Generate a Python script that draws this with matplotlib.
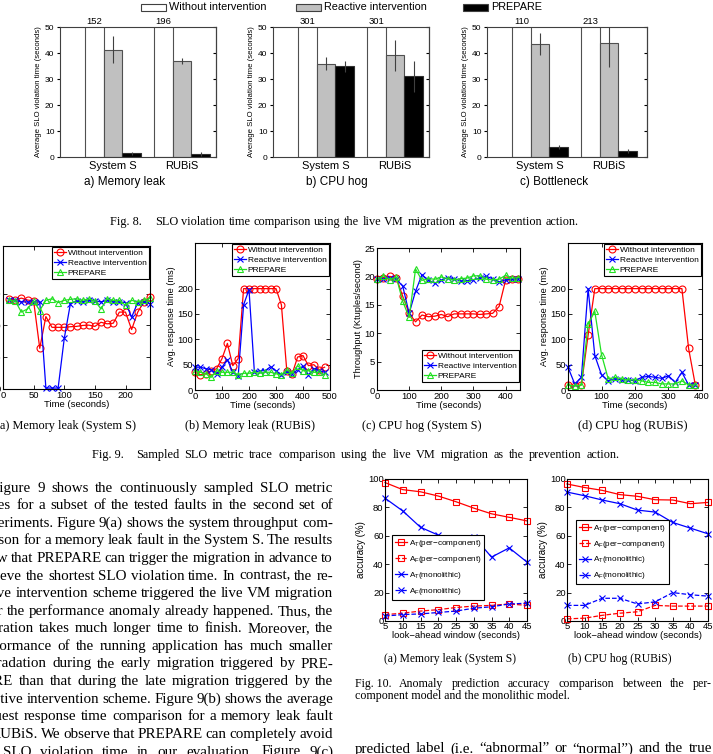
import matplotlib.pyplot as plt
from matplotlib.patches import Rectangle
import numpy as np

plt.rcParams['font.family'] = ['Liberation Sans', 'DejaVu Sans']
plt.rcParams['mathtext.default'] = 'regular'
plt.rcParams['axes.linewidth'] = 0.8

W, H = 713, 754
SERIF = ['Liberation Serif', 'DejaVu Serif']
GREEN = '#22e022'

# ---- Fig. 8 : SLO violation time (seconds) ----
apps = ['System S', 'RUBiS']
fig8_names = ['a) Memory leak', 'b) CPU hog', 'c) Bottleneck']
without_vals = [[152, 196], [301, 301], [110, 213]]
reactive_vals = [[41.3, 37.0], [35.9, 39.1], [43.5, 43.8]]
reactive_err = [[5.2, 1.2], [2.4, 6.0], [4.2, 9.0]]
prepare_vals = [[1.5, 1.2], [34.9, 31.0], [3.7, 2.2]]
prepare_err = [[0.6, 0.7], [2.1, 6.0], [0.8, 0.8]]

# ---- Fig. 9 : sampled SLO metric traces ----
t_mem_s = np.arange(10, 250, 10)
mem_s_without = [28.4, 28.0, 28.6, 28.0, 27.7, 12.8, 22.8, 19.4, 19.4, 19.4, 19.6, 19.7,
                 20.0, 20.1, 19.7, 21.0, 20.5, 20.7, 24.2, 24.2, 18.7, 24.2, 27.4, 29.0]
mem_s_reactive = [27.9, 27.9, 27.4, 27.4, 27.4, 27.4, 0.3, 0.3, 0.3, 15.9, 26.8, 27.7,
                  27.4, 27.9, 27.7, 27.4, 27.9, 27.4, 27.4, 27.2, 22.6, 27.2, 27.4, 26.8]
mem_s_prepare = [27.9, 27.7, 24.2, 25.2, 27.7, 24.7, 27.9, 28.4, 27.2, 27.9, 28.2, 28.4,
                 27.9, 28.4, 27.7, 25.2, 28.4, 27.9, 27.9, 26.3, 27.9, 27.4, 27.9, 28.6]

t_mem_r = np.arange(0, 500, 20)
mem_r_without = [35, 30, 32, 38, 42, 62, 92, 48, 62, 200, 200, 200, 200, 200, 200, 200,
                 168, 38, 32, 65, 68, 48, 50, 40, 45]
mem_r_reactive = [45, 45, 42, 40, 32, 45, 60, 35, 28, 168, 198, 35, 38, 38, 46, 38,
                  30, 35, 32, 40, 47, 30, 42, 38, 35]
mem_r_prepare = [38, 35, 32, 25, 38, 35, 35, 35, 30, 33, 33, 35, 33, 35, 35, 32,
                 30, 40, 33, 48, 38, 38, 35, 35, 30]

t_cpu_s = np.arange(0, 460, 20)
cpu_s_without = [19.5, 19.8, 20.0, 19.8, 16.5, 13.5, 12.0, 13.2, 12.9, 13.0, 13.3, 12.9,
                 13.4, 13.4, 13.4, 13.4, 13.3, 13.4, 13.5, 14.7, 19.3, 19.5, 19.6]
cpu_s_reactive = [19.5, 19.5, 19.8, 19.5, 18.3, 13.5, 17.4, 20.3, 19.3, 18.8, 19.3, 19.8,
                  19.6, 19.2, 19.2, 19.4, 19.7, 20.0, 19.6, 19.0, 19.4, 19.5, 19.6]
cpu_s_prepare = [19.5, 20.1, 19.4, 19.9, 15.6, 12.8, 21.3, 19.3, 19.6, 19.5, 19.9, 19.6,
                 19.4, 19.6, 19.7, 20.1, 20.1, 19.5, 19.4, 19.5, 20.2, 19.7, 19.8]

t_cpu_r = np.arange(0, 400, 20)
cpu_r_without = [10, 8, 10, 108, 200, 200, 200, 200, 200, 200, 200, 200, 200, 200,
                 200, 200, 200, 200, 82, 10]
cpu_r_reactive = [45, 12, 25, 200, 68, 30, 18, 22, 20, 20, 18, 25, 27, 25, 23, 28,
                  15, 35, 10, 10]
cpu_r_prepare = [10, 8, 10, 130, 155, 70, 22, 25, 22, 20, 20, 18, 15, 15, 12, 12,
                 12, 18, 10, 10]

# ---- Fig. 10 : prediction accuracy (%) ----
window = [5, 10, 15, 20, 25, 30, 35, 40, 45]
mem_at_comp = [97.5, 92.5, 91, 88, 84, 79.5, 75.5, 73, 70.5]
mem_af_comp = [4.5, 5.5, 7, 8, 9.5, 10.5, 11, 12, 11]
mem_at_mono = [86.5, 77.5, 66, 60.5, 57, 59.5, 45, 51.5, 41.5]
mem_af_mono = [3.5, 4.5, 5, 6, 7, 9, 10, 12, 12.5]
cpu_at_comp = [96.5, 94, 92, 89, 87.8, 85.4, 85.2, 82.6, 83.5]
cpu_af_comp = [1.5, 2, 4, 5.5, 6.5, 11, 10.5, 10.5, 10.5]
cpu_at_mono = [90.8, 88.2, 85.2, 82.6, 78.1, 76.7, 69.4, 65.4, 61.4]
cpu_af_mono = [11, 11, 16, 16, 12, 13.5, 20, 18.5, 17.5]

fig = plt.figure(figsize=(W / 100, H / 100), dpi=100)
renderer = fig.canvas.get_renderer()


def fx(x):
    return x / W


def fy(y):
    return 1 - y / H


def px_axes(l, t, r, b):
    return fig.add_axes([l / W, 1 - b / H, (r - l) / W, (b - t) / H])


def justify(line, x0, x1, y, size, family=SERIF):
    words = line.split()
    texts = [fig.text(0, fy(y), w, fontsize=size, family=family, va='center') for w in words]
    widths = [t.get_window_extent(renderer).width for t in texts]
    gap = (x1 - x0 - sum(widths)) / max(len(words) - 1, 1)
    x = x0
    for t, wd in zip(texts, widths):
        t.set_x(fx(x))
        x += wd + gap


# Fig. 8 legend
for x0, lab, col in [(141, 'Without intervention', 'white'),
                     (296, 'Reactive intervention', '#c0c0c0'),
                     (463, 'PREPARE', 'black')]:
    fig.patches.append(Rectangle((fx(x0), fy(11)), 25 / W, 7 / H, transform=fig.transFigure,
                                 facecolor=col, edgecolor='#404040', linewidth=0.8))
    fig.text(fx(x0 + 28), fy(7.5), lab, fontsize=7.8, va='center')

# Fig. 8 panels
for i, (l, r) in enumerate([(60, 216), (273, 429), (487, 647)]):
    ax = px_axes(l, 27, r, 157)
    x = np.array([1.0, 2.0])
    w = 0.27
    ekw = dict(ecolor='#404040', elinewidth=0.8, capsize=0)
    ax.bar(x - w, without_vals[i], w, color='white', edgecolor='#505050', linewidth=0.8)
    ax.bar(x, reactive_vals[i], w, yerr=reactive_err[i], color='#c0c0c0',
           edgecolor='#505050', linewidth=0.8, error_kw=ekw)
    ax.bar(x + w, prepare_vals[i], w, yerr=prepare_err[i], color='black',
           edgecolor='#303030', linewidth=0.8, error_kw=ekw)
    for j in range(2):
        ax.text(x[j] - w, 50.3, str(without_vals[i][j]), ha='center', va='bottom', fontsize=6.8)
    ax.set_ylim(0, 50)
    ax.set_xlim(1 - 53 / 69, 1 - 53 / 69 + (r - l) / 69)
    ax.set_xticks(x)
    ax.set_xticklabels(apps, fontsize=8)
    ax.tick_params(axis='x', length=0, pad=3)
    ax.set_yticks(range(0, 51, 10))
    ax.tick_params(axis='y', labelsize=6, length=2.5, width=0.8, pad=1.5)
    ax.set_ylabel('Average SLO violation time (seconds)', fontsize=5.6, labelpad=2)
    sec = ax.secondary_yaxis('right')
    sec.set_yticks(range(0, 51, 10))
    sec.set_yticklabels([])
    sec.tick_params(direction='in', length=2.5, width=0.8)
    for s in ax.spines.values():
        s.set_color('#404040')
    fig.text(fx([125, 337, 554][i]), fy(182), fig8_names[i], fontsize=8.5, ha='center', va='center')

fig.text(fx(110), fy(222), 'Fig. 8.', fontsize=8.8, family=SERIF, va='center')
justify('SLO violation time comparison using the live VM migration as the prevention action.',
        155, 579, 222, 8.8)

# Fig. 9 panels
styles = [('red', 'o', 'Without intervention'),
          ('blue', 'x', 'Reactive intervention'),
          (GREEN, '^', 'PREPARE')]
panels9 = [
    ((3, 246, 150, 389), t_mem_s, [mem_s_without, mem_s_reactive, mem_s_prepare],
     (0, 240), (0, 45), range(0, 201, 50), range(0, 31, 10),
     'Throughput (Ktuples/second)', 'upper right', None),
    ((195, 243, 330, 390), t_mem_r, [mem_r_without, mem_r_reactive, mem_r_prepare],
     (0, 500), (0, 290), range(0, 501, 100), range(0, 201, 50),
     'Avg. response time (ms)', 'upper right', None),
    ((377, 248, 520, 390), t_cpu_s, [cpu_s_without, cpu_s_reactive, cpu_s_prepare],
     (0, 445), (0, 25), range(0, 401, 100), range(0, 26, 5),
     'Throughput (Ktuples/second)', 'lower right', (1.0, 0.05)),
    ((568, 243, 702, 390), t_cpu_r, [cpu_r_without, cpu_r_reactive, cpu_r_prepare],
     (0, 400), (0, 290), range(0, 401, 100), range(0, 201, 50),
     'Avg. response time (ms)', 'upper right', None),
]
for box, t, series, xl, yl, xt, yt, ylab, loc, anchor in panels9:
    ax = px_axes(*box)
    for (c, m, lab), v in zip(styles, series):
        ax.plot(t, v, color=c, marker=m, mfc='none', ms=5, mew=0.8, lw=0.9,
                label=lab, clip_on=False)
    ax.set_xlim(*xl)
    ax.set_ylim(*yl)
    ax.set_xticks(list(xt))
    ax.set_yticks(list(yt))
    ax.tick_params(direction='in', length=3, width=0.6, top=True, right=True,
                   labelsize=6.8, pad=1.5)
    ax.set_xlabel('Time (seconds)', fontsize=6.8, labelpad=0)
    ax.set_ylabel(ylab, fontsize=6.6, labelpad=1)
    kw = dict(loc=loc, fontsize=6.0, handlelength=1.5, handletextpad=0.2,
              labelspacing=0.25, borderpad=0.25, borderaxespad=0.15,
              fancybox=False, framealpha=1, edgecolor='black')
    if anchor is not None:
        kw['bbox_to_anchor'] = anchor
    leg = ax.legend(**kw)
    leg.get_frame().set_linewidth(0.8)

for cx, lab in [(66, '(a) Memory leak (System S)'), (250, '(b) Memory leak (RUBiS)'),
                (422, '(c) CPU hog (System S)'), (633, '(d) CPU hog (RUBiS)')]:
    fig.text(fx(cx), fy(426), lab, fontsize=8.8, family=SERIF, ha='center', va='center')

fig.text(fx(92), fy(455), 'Fig. 9.', fontsize=8.8, family=SERIF, va='center')
justify('Sampled SLO metric trace comparison using the live VM migration as the prevention action.',
        136, 620, 455, 8.8)

# Fig. 10 panels
acc_labels = ['A$_T$(per\u2212component)', 'A$_F$(per\u2212component)',
              'A$_T$(monolithic)', 'A$_F$(monolithic)']
acc_styles = [('red', 's', '-'), ('red', 's', '--'), ('blue', 'x', '-'), ('blue', 'x', '--')]
panels10 = [
    ((385, 479, 527, 621), [mem_at_comp, mem_af_comp, mem_at_mono, mem_af_mono], (0.02, 0.12)),
    ((567, 479, 708, 621), [cpu_at_comp, cpu_af_comp, cpu_at_mono, cpu_af_mono], (0.035, 0.23)),
]
for box, series, anchor in panels10:
    ax = px_axes(*box)
    for (c, m, ls), lab, v in zip(acc_styles, acc_labels, series):
        ax.plot(window, v, color=c, marker=m, ls=ls, mfc='none', ms=4.5, mew=0.8, lw=0.9,
                label=lab, clip_on=False)
    ax.set_xlim(5, 45)
    ax.set_ylim(0, 100)
    ax.set_xticks(window)
    ax.set_yticks(range(0, 101, 20))
    ax.tick_params(direction='in', length=3, width=0.6, top=True, right=True,
                   labelsize=6.8, pad=1)
    ax.set_xlabel('look\u2212ahead window (seconds)', fontsize=6.8, labelpad=0)
    ax.set_ylabel('accuracy (%)', fontsize=7, labelpad=1)
    leg = ax.legend(loc='lower left', bbox_to_anchor=anchor, fontsize=5.9, handlelength=1.5,
                    handletextpad=0.2, labelspacing=0.6, borderpad=0.35,
                    fancybox=False, framealpha=1, edgecolor='black')
    leg.get_frame().set_linewidth(0.8)

fig.text(fx(450), fy(659), '(a) Memory leak (System S)', fontsize=8.4, family=SERIF,
         ha='center', va='center')
fig.text(fx(620), fy(659), '(b) CPU hog (RUBiS)', fontsize=8.4, family=SERIF,
         ha='center', va='center')

fig.text(fx(355), fy(684), 'Fig. 10.', fontsize=8.6, family=SERIF, va='center')
justify('Anomaly prediction accuracy comparison between the per-', 399, 712, 684, 8.6)
fig.text(fx(355), fy(696), 'component model and the monolithic model.', fontsize=8.6,
         family=SERIF, va='center')

justify('predicted label (i.e. \u201cabnormal\u201d or \u201cnormal\u201d) and the true',
        355, 712, 749, 10.8)

# body text of the left column (clipped at the page edge)
body = [
    'Figure 9 shows the continuously sampled SLO metric',
    'traces for a subset of the tested faults in the second set of',
    'experiments. Figure 9(a) shows the system throughput com-',
    'parison for a memory leak fault in the System S. The results',
    'show that PREPARE can trigger the migration in advance to',
    'achieve the shortest SLO violation time. In contrast, the re-',
    'active intervention scheme triggered the live VM migration',
    'after the performance anomaly already happened. Thus, the',
    'migration takes much longer time to finish. Moreover, the',
    'performance of the running application has much smaller',
    'degradation during the early migration triggered by PRE-',
    'PARE than that during the late migration triggered by the',
    'reactive intervention scheme. Figure 9(b) shows the average',
    'request response time comparison for a memory leak fault',
    'in RUBiS. We observe that PREPARE can completely avoid',
    'the SLO violation time in our evaluation. Figure 9(c)',
]
for k, line in enumerate(body):
    justify(line, -8 if k == 0 else -24, 333, 488 + 17.6 * k, 10.8)

fig.savefig('out.png', dpi=100)
